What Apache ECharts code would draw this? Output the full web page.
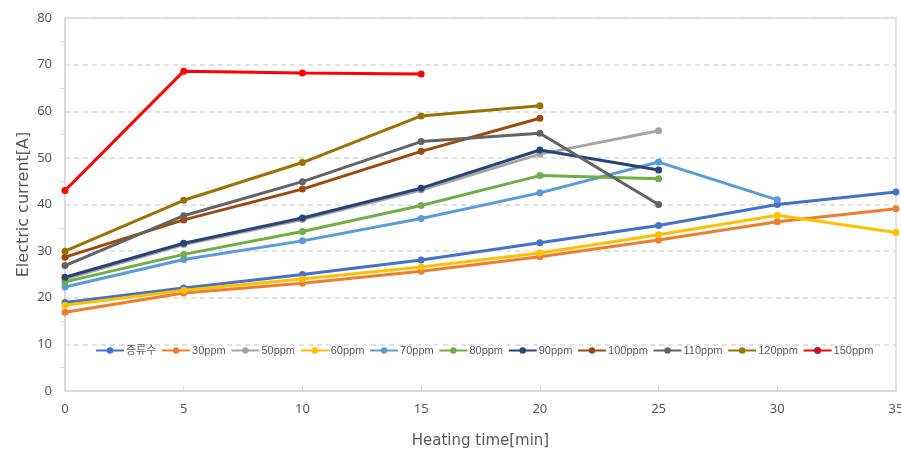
<!DOCTYPE html>
<html>
<head>
<meta charset="utf-8">
<script src="https://cdn.jsdelivr.net/npm/echarts@6/dist/echarts.min.js"></script>
<style>
  html, body { margin: 0; padding: 0; background: #fff; overflow: hidden; }
  #chart { width: 901px; height: 453px; }
</style>
</head>
<body>
<div id="chart"></div>
<script>
// Heating time in minutes (x positions of the measurements)
const times = [0, 5, 10, 15, 20, 25, 30, 35];

// Electric current [A] for each concentration
const distilledWater = [19.0, 22.1, 25.0, 28.1, 31.8, 35.5, 40.0, 42.7];
const ppm30  = [16.9, 21.0, 23.1, 25.7, 28.8, 32.4, 36.3, 39.1];
const ppm50  = [24.0, 31.4, 36.8, 43.1, 50.8, 55.8];
const ppm60  = [18.4, 21.6, 24.0, 26.6, 29.6, 33.5, 37.7, 34.0];
const ppm70  = [22.3, 28.2, 32.2, 37.0, 42.5, 49.1, 41.0];
const ppm80  = [23.4, 29.3, 34.2, 39.8, 46.2, 45.5];
const ppm90  = [24.4, 31.7, 37.1, 43.5, 51.7, 47.4];
const ppm100 = [28.7, 36.7, 43.3, 51.4, 58.5];
const ppm110 = [26.9, 37.6, 44.9, 53.5, 55.3, 40.0];
const ppm120 = [30.0, 40.9, 49.0, 59.0, 61.2];
const ppm150 = [43.0, 68.6, 68.2, 68.0];

const seriesNames = ['증류수', '30ppm', '50ppm', '60ppm', '70ppm', '80ppm',
                     '90ppm', '100ppm', '110ppm', '120ppm', '150ppm'];
const seriesValues = [distilledWater, ppm30, ppm50, ppm60, ppm70, ppm80,
                      ppm90, ppm100, ppm110, ppm120, ppm150];
const seriesColors = ['#4472C4', '#ED7D31', '#A5A5A5', '#FFC000', '#5B9BD5', '#70AD47',
                      '#264478', '#9E480E', '#636363', '#997300', '#FF0000'];

const yTicks = [0, 10, 20, 30, 40, 50, 60, 70, 80];
const xTicks = [0, 5, 10, 15, 20, 25, 30, 35];

const textColor = '#595959';
const lineGray = '#D9D9D9';
const fontFamily = '"Noto Sans", "Noto Sans CJK KR", sans-serif';
const titleFont = '"DejaVu Sans", sans-serif';
const legendFont = '"Liberation Sans", "Noto Sans CJK KR", sans-serif';

const chart = echarts.init(document.getElementById('chart'), null, { renderer: 'canvas' });

const series = seriesNames.map((name, i) => ({
  name: name,
  type: 'line',
  data: seriesValues[i].map((v, j) => [times[j], v]),
  symbol: 'circle',
  symbolSize: 7,
  lineStyle: { width: 3, color: seriesColors[i] },
  itemStyle: { color: seriesColors[i] },
  emphasis: { disabled: true },
  animation: false,
  z: 2 + i
}));

const option = {
  backgroundColor: '#fff',
  textStyle: { fontFamily: fontFamily },
  grid: {
    left: 65, right: 5, top: 18, bottom: 62,
    show: true, borderColor: lineGray, borderWidth: 1.5,
    containLabel: false,
    outerBoundsMode: 'none'
  },
  legend: {
    data: seriesNames.map((n) => (
      n === '150ppm'
        ? { name: n, itemStyle: { color: '#FF0000', borderColor: '#2F5597', borderWidth: 1 } }
        : { name: n }
    )),
    left: 95,
    top: 345,
    itemWidth: 28,
    itemHeight: 8,
    itemGap: 4.7,
    padding: 0,
    textStyle: { color: textColor, fontSize: 11, fontFamily: legendFont, padding: [0, 0, 0, -3] }
  },
  xAxis: {
    type: 'value',
    min: xTicks[0],
    max: xTicks[xTicks.length - 1],
    interval: 5,
    name: 'Heating time[min]',
    nameLocation: 'middle',
    nameGap: 43,
    nameMoveOverlap: false,
    nameTextStyle: { color: textColor, fontSize: 15, fontFamily: titleFont },
    axisLine: { show: true, lineStyle: { color: lineGray, width: 1.5 } },
    axisTick: { show: true, inside: true, length: 5, lineStyle: { color: lineGray } },
    axisLabel: { color: textColor, fontSize: 13, margin: 12, fontFamily: fontFamily },
    splitLine: { show: false }
  },
  yAxis: {
    type: 'value',
    min: yTicks[0],
    max: yTicks[yTicks.length - 1],
    interval: 10,
    name: 'Electric current[A]',
    nameLocation: 'middle',
    nameGap: 33,
    nameMoveOverlap: false,
    nameTextStyle: { color: textColor, fontSize: 16, fontFamily: titleFont },
    axisLine: { show: true, lineStyle: { color: lineGray, width: 1.5 } },
    axisTick: { show: false },
    minorTick: { show: true, splitNumber: 2, length: 5, lineStyle: { color: lineGray } },
    axisLabel: { color: textColor, fontSize: 13, margin: 13, fontFamily: fontFamily },
    splitLine: { show: true, lineStyle: { color: lineGray, type: [5, 4], width: 1.5 } }
  },
  series: series
};

chart.setOption(option);
</script>
</body>
</html>
